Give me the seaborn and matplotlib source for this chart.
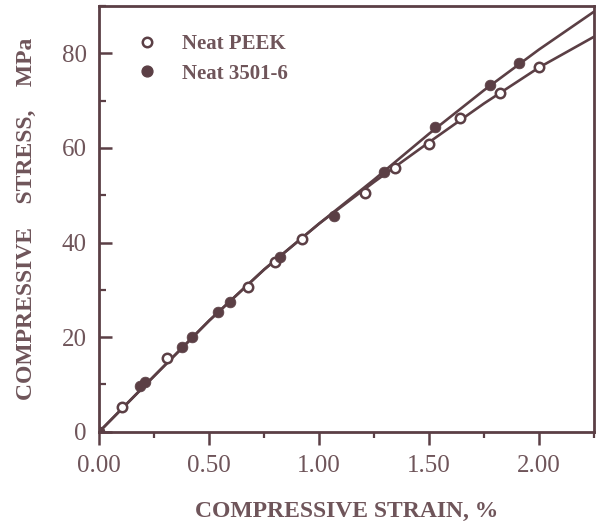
import matplotlib
matplotlib.use("Agg")
import numpy as np
import pandas as pd
import seaborn as sns
import matplotlib.pyplot as plt
from matplotlib.lines import Line2D
from matplotlib.ticker import MultipleLocator

# ---- data ----
peek_strain = [0.0, 0.104, 0.31, 0.675, 0.80, 0.924, 1.207, 1.347, 1.498, 1.642, 1.823, 2.00]
peek_stress = [0.0, 5.3, 15.5, 30.5, 35.8, 40.7, 50.5, 55.8, 60.8, 66.3, 71.6, 77.0]
epoxy_strain = [0.0, 0.184, 0.207, 0.378, 0.423, 0.542, 0.595, 0.824, 1.068, 1.294, 1.529, 1.778, 1.909]
epoxy_stress = [0.0, 9.6, 10.5, 18.0, 20.0, 25.3, 27.4, 36.9, 45.6, 54.9, 64.4, 73.2, 77.9]

peek_curve_strain = [0.0, 0.25, 0.5, 0.75, 1.0, 1.25, 1.5, 1.75, 2.0, 2.25]
peek_curve_stress = [0.0, 11.8, 23.5, 34.3, 44.0, 52.8, 61.2, 69.4, 77.0, 83.5]
epoxy_curve_strain = [0.0, 0.25, 0.5, 0.75, 1.0, 1.25, 1.5, 1.75, 2.0, 2.25]
epoxy_curve_stress = [0.0, 11.8, 23.5, 34.3, 44.0, 53.3, 63.0, 72.2, 80.8, 88.8]

series_labels = ["Neat PEEK", "Neat 3501-6"]
x_ticks = [0.0, 0.5, 1.0, 1.5, 2.0]
x_tick_labels = ["0.00", "0.50", "1.00", "1.50", "2.00"]
y_ticks = [0, 20, 40, 60, 80]

LINE = "#5b3f45"
TEXT = "#6f555a"

sns.set_theme(style="white")
plt.rcParams["font.family"] = ["Liberation Serif", "DejaVu Serif"]

fig = plt.figure(figsize=(6.04, 5.27), dpi=100)
ax = fig.add_axes([0.1644, 0.1808, 0.8190, 0.8078])

curves = pd.DataFrame({
    "strain": peek_curve_strain + epoxy_curve_strain,
    "stress": peek_curve_stress + epoxy_curve_stress,
    "series": [series_labels[0]] * len(peek_curve_strain) + [series_labels[1]] * len(epoxy_curve_strain),
})
sns.lineplot(data=curves, x="strain", y="stress", units="series", estimator=None,
             sort=False, color=LINE, linewidth=1.9, ax=ax, legend=False)

sns.scatterplot(x=peek_strain, y=peek_stress, ax=ax, marker="o", s=46,
                facecolor="white", edgecolor=LINE, linewidth=1.8, zorder=3, legend=False)
sns.scatterplot(x=epoxy_strain, y=epoxy_stress, ax=ax, marker="o", s=60,
                color=LINE, edgecolor=LINE, linewidth=0.5, zorder=4, legend=False)

ax.set_xlim(0, 2.25)
ax.set_ylim(0, 90)
ax.set_xticks(x_ticks)
ax.set_xticklabels(x_tick_labels)
ax.set_yticks(y_ticks)
ax.xaxis.set_minor_locator(MultipleLocator(0.25))
ax.yaxis.set_minor_locator(MultipleLocator(10))

ax.tick_params(axis="x", which="major", direction="out", length=9, width=1.8,
               color=LINE, labelsize=18, labelcolor=TEXT, pad=8, bottom=True)
ax.tick_params(axis="x", which="minor", direction="out", length=4, width=1.6,
               color=LINE, bottom=True)
ax.tick_params(axis="y", which="major", direction="in", length=9, width=1.8,
               color=LINE, labelsize=18, labelcolor=TEXT, pad=9, left=True)
ax.tick_params(axis="y", which="minor", direction="in", length=5, width=1.6,
               color=LINE, left=True)

for sp in ax.spines.values():
    sp.set_color(LINE)
    sp.set_linewidth(2.0)
    sp.set_visible(True)

ax.set_xlabel("COMPRESSIVE STRAIN, %", fontsize=17, fontweight="bold",
              color=TEXT, labelpad=17)
ax.set_ylabel("COMPRESSIVE    STRESS,    MPa", fontsize=17, fontweight="bold",
              color=TEXT, labelpad=18)

handles = [
    Line2D([], [], linestyle="none", marker="o", markersize=6.8,
           markerfacecolor="white", markeredgecolor=LINE, markeredgewidth=1.8),
    Line2D([], [], linestyle="none", marker="o", markersize=7.8,
           markerfacecolor=LINE, markeredgecolor=LINE),
]
leg = ax.legend(handles, series_labels, loc="upper left", bbox_to_anchor=(0.0585, 0.953),
                frameon=False, handletextpad=1.2, labelspacing=0.44,
                prop={"family": "Liberation Serif", "weight": "bold", "size": 15},
                handlelength=1.0, borderaxespad=0)
for t in leg.get_texts():
    t.set_color(TEXT)

ax.grid(False)
fig.savefig("out.png", dpi=100, facecolor="white")
